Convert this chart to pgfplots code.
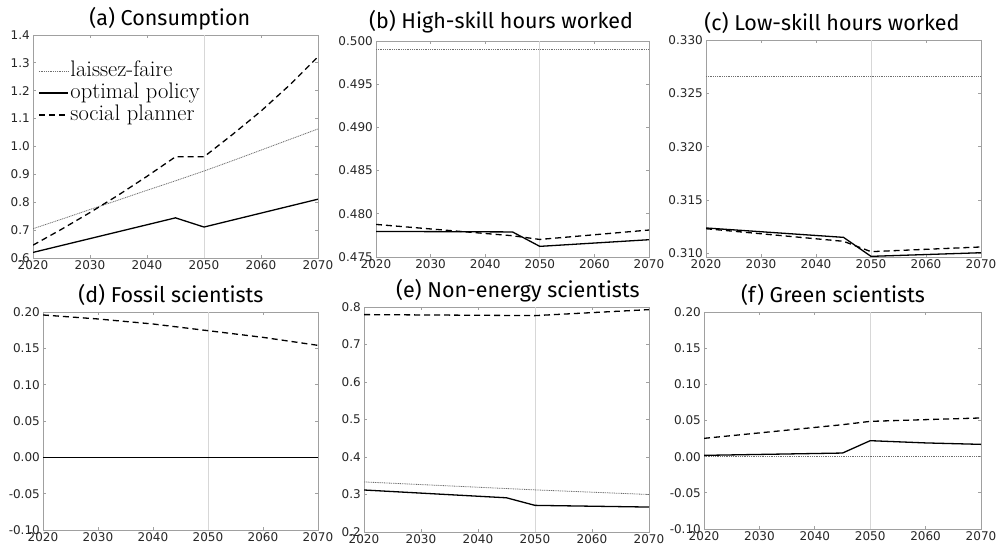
\documentclass[border=0pt]{standalone}
\usepackage{fontspec}
\usepackage{pgfplots}
\pgfplotsset{compat=1.18}
\newfontfamily\tickfont{DejaVu Sans}
\newfontfamily\titlefont{Fira Sans}
\definecolor{axgray}{RGB}{160,160,160}
\definecolor{ticktext}{RGB}{38,38,38}
\definecolor{vgray}{RGB}{215,215,215}
\definecolor{lfgray}{RGB}{110,110,110}
\pgfplotsset{
  panel/.style={
    scale only axis,
    xmin=2020,xmax=2070,
    xtick={2020,2030,2040,2050,2060,2070},
    xticklabels={2020,2030,2040,2050,2060,2070},
    tick align=inside,
    major tick length=3pt,
    axis line style={axgray, line width=0.8pt},
    every tick/.style={axgray, line width=0.8pt},
    tick label style={font=\fontsize{12}{14}\tickfont, text=ticktext},
    xticklabel style={inner sep=2.5pt},
    yticklabel style={inner sep=3pt},
    title style={font=\fontsize{21.5}{24}\titlefont, anchor=base, yshift=3pt},
    anchor=south west,
  },
  lf/.style={lfgray, line width=0.8pt, dash pattern=on 1pt off 0.8pt},
  op/.style={black, line width=1.3pt},
  sp/.style={black, line width=1.3pt, dash pattern=on 6pt off 4pt},
  vl/.style={vgray, line width=0.9pt, forget plot},
}
\begin{document}
\begin{tikzpicture}
\useasboundingbox (0,0) rectangle (1001pt,553pt);
% (a)
\begin{axis}[panel, at={(33pt,295pt)}, width=285pt, height=223pt,
  ymin=0.6, ymax=1.4,
  ytick={0.6,0.7,0.8,0.9,1.0,1.1,1.2,1.3,1.4},
  yticklabels={0.6,0.7,0.8,0.9,1.0,1.1,1.2,1.3,1.4},
  title={(a) Consumption}, title style={at={(0.48,1)}},
  legend style={at={(0.0175,0.882)}, anchor=north west, draw=none, fill=none,
    font=\fontsize{22.5}{24}\selectfont, inner sep=0pt, column sep=2pt, row sep=3pt,
    nodes={inner sep=0pt, text height=15pt, text depth=4pt}},
  legend cell align=left,
  legend image code/.code={\draw[#1] (0pt,0pt) -- (29pt,0pt);},
]
\addplot[vl] coordinates {(2050,0.6) (2050,1.4)};
\addplot[lf] coordinates {(2020,0.705)(2025,0.739)(2030,0.774)(2035,0.808)(2040,0.843)(2045,0.877)(2050,0.912)(2055,0.949)(2060,0.987)(2065,1.025)(2070,1.063)};
\addlegendentry{laissez-faire}
\addplot[op] coordinates {(2020,0.620)(2045,0.744)(2050,0.711)(2070,0.811)};
\addlegendentry{optimal policy}
\addplot[sp] coordinates {(2020,0.646)(2025,0.703)(2030,0.763)(2035,0.826)(2040,0.893)(2045,0.963)(2050,0.963)(2055,1.043)(2060,1.127)(2065,1.220)(2070,1.322)};
\addlegendentry{social planner}
\end{axis}
% (b)
\begin{axis}[panel, at={(376pt,296pt)}, width=273pt, height=216pt,
  ymin=0.475, ymax=0.500,
  ytick={0.475,0.480,0.485,0.490,0.495,0.500},
  yticklabels={0.475,0.480,0.485,0.490,0.495,0.500},
  title={(b) High-skill hours worked}, title style={at={(0.458,1)}, yshift=3pt},
]
\addplot[vl] coordinates {(2050,0.475) (2050,0.500)};
\addplot[lf] coordinates {(2020,0.49900)(2070,0.49900)};
\addplot[op] coordinates {(2020,0.47796)(2045,0.47790)(2050,0.47623)(2070,0.47700)};
\addplot[sp] coordinates {(2020,0.47877)(2045,0.47746)(2050,0.47703)(2070,0.47812)};
\end{axis}
% (c)
\begin{axis}[panel, at={(706pt,296pt)}, width=275pt, height=217pt,
  ymin=0.30966, ymax=0.330,
  ytick={0.310,0.315,0.320,0.325,0.330},
  yticklabels={0.310,0.315,0.320,0.325,0.330},
  title={(c) Low-skill hours worked}, title style={at={(0.458,1)}},
]
\addplot[vl] coordinates {(2050,0.30966) (2050,0.330)};
\addplot[lf] coordinates {(2020,0.32656)(2070,0.32656)};
\addplot[op] coordinates {(2020,0.31238)(2045,0.31150)(2050,0.30972)(2070,0.31006)};
\addplot[sp] coordinates {(2020,0.31231)(2045,0.31113)(2050,0.31016)(2070,0.31060)};
\end{axis}
% (d)
\begin{axis}[panel, at={(43pt,23pt)}, width=275pt, height=218pt,
  ymin=-0.10, ymax=0.20,
  ytick={-0.10,-0.05,0,0.05,0.10,0.15,0.20},
  yticklabels={-0.10,-0.05,0.00,0.05,0.10,0.15,0.20},
  title={(d) Fossil scientists}, title style={at={(0.465,1)}},
]
\addplot[vl] coordinates {(2050,-0.10) (2050,0.20)};
\addplot[lf] coordinates {(2020,0)(2070,0)};
\addplot[op] coordinates {(2020,0)(2070,0)};
\addplot[sp] coordinates {(2020,0.1959)(2030,0.1904)(2040,0.1835)(2050,0.1743)(2060,0.1651)(2070,0.1541)};
\end{axis}
% (e)
\begin{axis}[panel, at={(364pt,21pt)}, width=285pt, height=225pt,
  ymin=0.2, ymax=0.8,
  ytick={0.2,0.3,0.4,0.5,0.6,0.7,0.8},
  yticklabels={0.2,0.3,0.4,0.5,0.6,0.7,0.8},
  title={(e) Non-energy scientists}, title style={at={(0.54,1)}},
]
\addplot[vl] coordinates {(2050,0.2) (2050,0.8)};
\addplot[lf] coordinates {(2020,0.3335)(2050,0.3123)(2070,0.3000)};
\addplot[op] coordinates {(2020,0.3120)(2045,0.2912)(2050,0.2710)(2070,0.2665)};
\addplot[sp] coordinates {(2020,0.7797)(2045,0.7775)(2050,0.7770)(2060,0.7850)(2070,0.7930)};
\end{axis}
% (f)
\begin{axis}[panel, at={(704pt,24pt)}, width=277pt, height=217pt,
  ymin=-0.10, ymax=0.20,
  ytick={-0.10,-0.05,0,0.05,0.10,0.15,0.20},
  yticklabels={-0.10,-0.05,0.00,0.05,0.10,0.15,0.20},
  title={(f) Green scientists}, title style={at={(0.466,1)}},
]
\addplot[vl] coordinates {(2050,-0.10) (2050,0.20)};
\addplot[lf] coordinates {(2020,0)(2070,0)};
\addplot[op] coordinates {(2020,0.0018)(2045,0.0050)(2050,0.0221)(2060,0.0190)(2070,0.0170)};
\addplot[sp] coordinates {(2020,0.0253)(2045,0.0442)(2050,0.0488)(2060,0.0512)(2070,0.0535)};
\end{axis}
\end{tikzpicture}
\end{document}
